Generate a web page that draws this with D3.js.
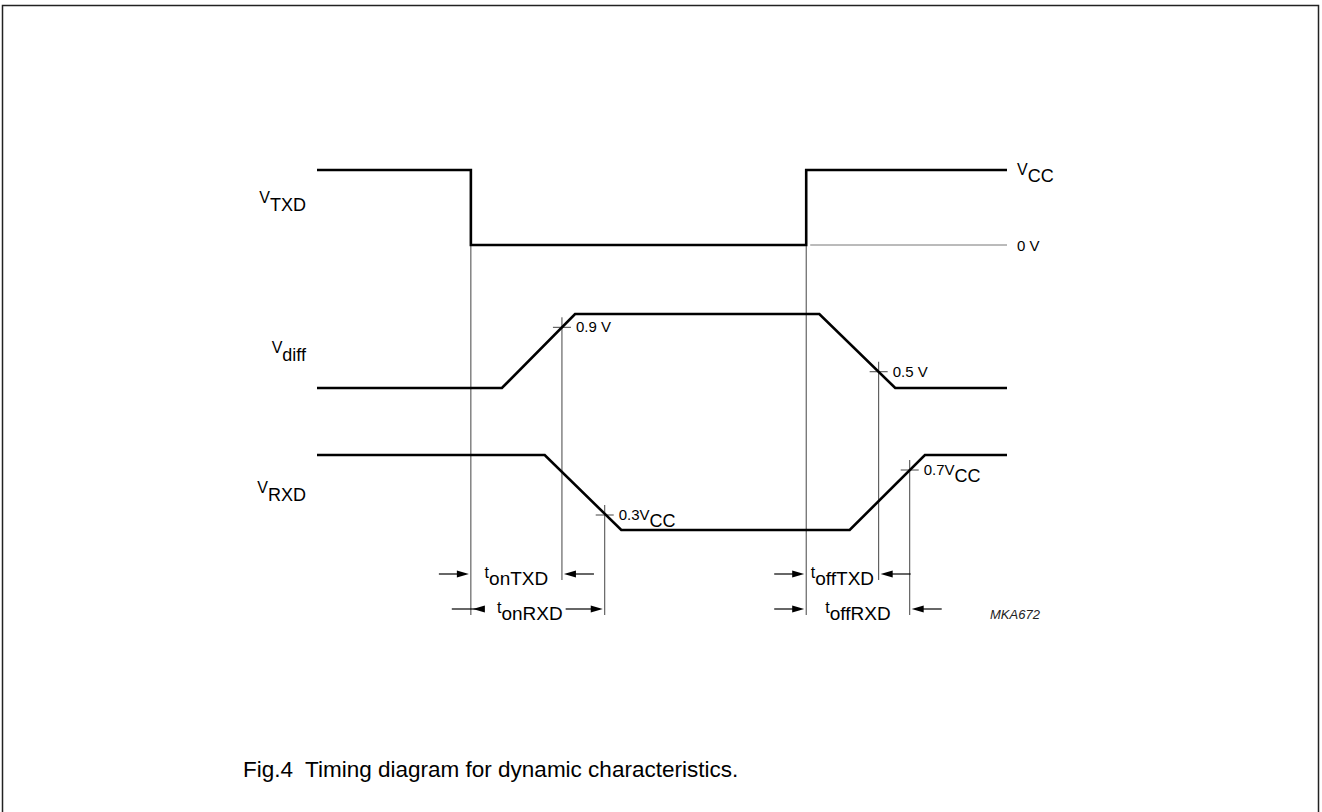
<!DOCTYPE html>
<html>
<head>
<meta charset="utf-8">
<script src="https://cdn.jsdelivr.net/npm/d3@7"></script>
<style>
  body { margin: 0; background: #fff; }
  svg { display: block; }
  text { font-family: "Liberation Sans", Arial, Helvetica, sans-serif; fill: #000; }
</style>
</head>
<body>
<svg id="chart" width="1322" height="812"></svg>
<script>
// waveforms: time in arbitrary units (0..100), level 0 = low, 1 = high
var txdTimes = [0, 22.3, 22.3, 70.9, 70.9, 100];
var txdLevels = [1, 1, 0, 0, 1, 1];
var diffTimes = [0, 26.8, 37.4, 72.8, 83.8, 100];
var diffLevels = [0, 0, 1, 1, 0, 0];
var rxdTimes = [0, 33.0, 44.1, 77.2, 88.1, 100];
var rxdLevels = [1, 1, 0, 0, 1, 1];
var signalNames = ["TXD", "diff", "RXD"];

// threshold crossings
var markSignal = [1, 2, 1, 2];
var markTimes = [35.5, 41.7, 81.4, 85.9];
var markLevels = [0.82, 0.2, 0.22, 0.8];
var markText = ["0.9 V", "0.3V", "0.5 V", "0.7V"];
var markSub = ["", "CC", "", "CC"];

// timing intervals
var intervalNames = ["onTXD", "onRXD", "offTXD", "offRXD"];
var intervalStart = [22.3, 22.3, 70.9, 70.9];
var intervalEnd = [35.5, 41.7, 81.4, 85.9];
var intervalRow = [0, 1, 0, 1];
var arrowsInside = [false, true, false, false];

var svg = d3.select("#chart");

// frame
svg.append("rect").attr("x", 2.5).attr("y", 5.5).attr("width", 1316).attr("height", 812)
  .attr("fill", "none").attr("stroke", "#222").attr("stroke-width", 1.5);

var x = d3.scaleLinear().domain([0, 100]).range([317, 1007]);
var yScales = [
  d3.scaleLinear().domain([0, 1]).range([245, 170]),
  d3.scaleLinear().domain([0, 1]).range([388, 314]),
  d3.scaleLinear().domain([0, 1]).range([530, 455])
];
var rowY = [574, 609];
var nameBaseline = [203, 353, 493];

var waves = [
  d3.zip(txdTimes, txdLevels),
  d3.zip(diffTimes, diffLevels),
  d3.zip(rxdTimes, rxdLevels)
];

// guide lines
var guides = svg.append("g").attr("stroke", "#444").attr("stroke-width", 1);
// 0 V reference
guides.append("line")
  .attr("x1", x(txdTimes[3]) + 4).attr("x2", x(100))
  .attr("y1", yScales[0](0)).attr("y2", yScales[0](0))
  .attr("stroke", "#777");
// TXD edges
[txdTimes[1], txdTimes[3]].forEach(function(t) {
  guides.append("line")
    .attr("x1", x(t)).attr("x2", x(t))
    .attr("y1", yScales[0](0)).attr("y2", rowY[1] + 6);
});
// crossing markers
markTimes.forEach(function(t, i) {
  var k = intervalEnd.indexOf(t);
  var yy = yScales[markSignal[i]](markLevels[i]);
  guides.append("line")
    .attr("x1", x(t)).attr("x2", x(t))
    .attr("y1", yy - 10).attr("y2", rowY[intervalRow[k]] + 6);
  guides.append("line")
    .attr("x1", x(t) - 9).attr("x2", x(t) + 9)
    .attr("y1", yy).attr("y2", yy);
  var lab = svg.append("text")
    .attr("x", x(t) + 14).attr("y", yy + 5)
    .style("font-size", "15px")
    .text(markText[i]);
  if (markSub[i]) lab.append("tspan").attr("dy", 7).style("font-size", "18px").text(markSub[i]);
});

// waveforms
var line = d3.line().x(function(d) { return x(d[0]); });
waves.forEach(function(w, i) {
  svg.append("path")
    .attr("d", line.y(function(d) { return yScales[i](d[1]); })(w))
    .attr("fill", "none").attr("stroke", "#000").attr("stroke-width", 2.6)
    .attr("stroke-linejoin", "miter");
  var t = svg.append("text")
    .attr("x", 306).attr("y", nameBaseline[i])
    .attr("text-anchor", "end")
    .style("font-size", "16px")
    .text("V");
  t.append("tspan").attr("dy", 8).style("font-size", "18px").text(signalNames[i]);
});

// supply labels
var vcc = svg.append("text").attr("x", x(100) + 10).attr("y", yScales[0](1) + 5)
  .style("font-size", "16px").text("V");
vcc.append("tspan").attr("dy", 7).style("font-size", "18px").text("CC");
svg.append("text").attr("x", x(100) + 10).attr("y", yScales[0](0) + 6)
  .style("font-size", "15px").text("0 V");

// arrows
function arrow(tip, y, dir, len) {
  var g = svg.append("g");
  g.append("line").attr("x1", tip - dir * len).attr("x2", tip - dir * 8)
    .attr("y1", y).attr("y2", y).attr("stroke", "#000").attr("stroke-width", 1.2);
  g.append("path")
    .attr("d", "M" + tip + "," + y + "L" + (tip - dir * 12) + "," + (y - 3.5) +
      "L" + (tip - dir * 12) + "," + (y + 3.5) + "Z")
    .attr("fill", "#000");
}

intervalNames.forEach(function(n, i) {
  var x0 = x(intervalStart[i]), x1 = x(intervalEnd[i]);
  var y = rowY[intervalRow[i]];
  var lab = svg.append("text")
    .attr("x", (x0 + x1) / 2 - (arrowsInside[i] ? 8 : 0)).attr("y", y + 4)
    .attr("text-anchor", "middle")
    .style("font-size", "16px")
    .text("t");
  lab.append("tspan").attr("dy", 7).style("font-size", "19px").text(n);
  if (arrowsInside[i]) {
    var bb = lab.node().getBBox();
    arrow(x0 + 2, y, -1, x0 + 2 - (bb.x - 3));
    arrow(x1 - 2, y, 1, (x1 - 2) - (bb.x + bb.width + 3));
  } else {
    arrow(x0 - 2, y, 1, 30);
    arrow(x1 + 2, y, -1, 30);
  }
});

svg.append("text").attr("x", 990).attr("y", 619)
  .style("font-size", "13px").style("font-style", "italic").style("fill", "#222")
  .text("MKA672");

svg.append("text").attr("x", 243).attr("y", 777)
  .attr("xml:space", "preserve").style("white-space", "pre")
  .style("font-size", "22.5px")
  .text("Fig.4  Timing diagram for dynamic characteristics.");
</script>
</body>
</html>
